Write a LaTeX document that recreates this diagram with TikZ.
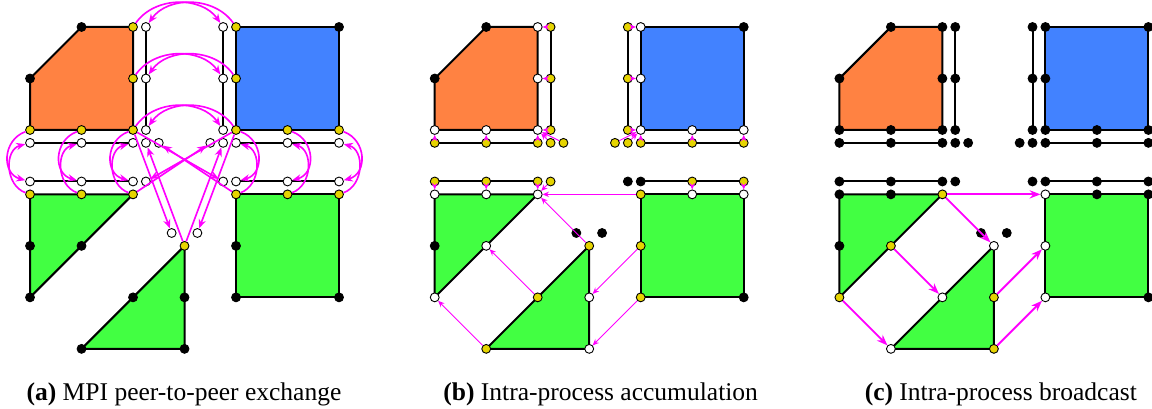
\documentclass[tikz,border=0pt]{standalone}
\usepackage{fontspec}
\setmainfont{Liberation Serif}
\usetikzlibrary{arrows.meta}
\usetikzlibrary{backgrounds}
\usepackage{xcolor}
\definecolor{cellorange}{RGB}{255,130,66}
\definecolor{cellblue}{RGB}{66,130,255}
\definecolor{cellgreen}{RGB}{66,255,66}
\definecolor{haloyellow}{RGB}{230,212,0}
\definecolor{msgmagenta}{RGB}{255,0,255}

\begin{document}
\begin{tikzpicture}[
  blk/.style = {draw,circle,fill=black,inner sep=0pt,minimum size=4.9pt,line width=0.5pt},
  ylw/.style = {draw,circle,fill=haloyellow,inner sep=0pt,minimum size=4.9pt,line width=0.5pt},
  wht/.style = {draw,circle,fill=white,inner sep=0pt,minimum size=4.9pt,line width=0.5pt},
  cell/.style = {draw,line width=1.1pt,line join=round},
  strip/.style = {draw,line width=1.1pt},
  xfer/.style = {msgmagenta,line width=0.9pt,-{Stealth[length=5pt,width=4pt]}},
  acc/.style = {msgmagenta,line width=0.5pt,-{Stealth[length=3.5pt,width=3pt]}},
  bcast/.style = {msgmagenta,line width=1pt,-{Stealth[length=6pt,width=4.5pt]}},
  caption/.style = {anchor=base,font=\fontsize{14.1}{16}\selectfont}]
\useasboundingbox (-0.583,0.524) rectangle (21.786,-7.417);

% (a) peer-to-peer exchange
\begin{scope}
  \node[blk] (a-o10) at (1,0) {};
  \node[ylw] (a-o20) at (2,0) {};
  \node[ylw] (a-o21) at (2,-1) {};
  \node[blk] (a-o01) at (0,-1) {};
  \node[ylw] (a-o02) at (0,-2) {};
  \node[ylw] (a-o12) at (1,-2) {};
  \node[ylw] (a-o22) at (2,-2) {};
  \node[wht] (a-s0) at (2.25,0) {};
  \node[wht] (a-s1) at (2.25,-1) {};
  \node[wht] (a-s2) at (2.25,-2) {};
  \node[wht] (a-u0) at (0,-2.25) {};
  \node[wht] (a-u1) at (1,-2.25) {};
  \node[wht] (a-u2) at (2,-2.25) {};
  \node[wht] (a-u3) at (2.25,-2.25) {};
  \node[wht] (a-u4) at (2.5,-2.25) {};
  \node[wht] (a-t0) at (3.75,0) {};
  \node[wht] (a-t1) at (3.75,-1) {};
  \node[wht] (a-t2) at (3.75,-2) {};
  \node[wht] (a-v0) at (3.5,-2.25) {};
  \node[wht] (a-v1) at (3.75,-2.25) {};
  \node[wht] (a-v2) at (4,-2.25) {};
  \node[wht] (a-v3) at (5,-2.25) {};
  \node[wht] (a-v4) at (6,-2.25) {};
  \node[ylw] (a-b40) at (4,0) {};
  \node[blk] (a-b60) at (6,0) {};
  \node[ylw] (a-b41) at (4,-1) {};
  \node[ylw] (a-b42) at (4,-2) {};
  \node[ylw] (a-b52) at (5,-2) {};
  \node[ylw] (a-b62) at (6,-2) {};
  \node[wht] (a-l0) at (0,-3) {};
  \node[wht] (a-l1) at (1,-3) {};
  \node[wht] (a-l2) at (2,-3) {};
  \node[wht] (a-l3) at (2.25,-3) {};
  \node[wht] (a-r0) at (3.75,-3) {};
  \node[wht] (a-r1) at (4,-3) {};
  \node[wht] (a-r2) at (5,-3) {};
  \node[wht] (a-r3) at (6,-3) {};
  \node[ylw] (a-g0) at (0,-3.25) {};
  \node[ylw] (a-g1) at (1,-3.25) {};
  \node[ylw] (a-g2) at (2,-3.25) {};
  \node[blk] (a-g3) at (0,-4.25) {};
  \node[blk] (a-g4) at (1,-4.25) {};
  \node[blk] (a-g5) at (0,-5.25) {};
  \node[wht] (a-e0) at (2.75,-4) {};
  \node[wht] (a-e1) at (3.25,-4) {};
  \node[ylw] (a-h0) at (3,-4.25) {};
  \node[blk] (a-h1) at (3,-5.25) {};
  \node[blk] (a-h2) at (2,-5.25) {};
  \node[blk] (a-h3) at (3,-6.25) {};
  \node[blk] (a-h4) at (1,-6.25) {};
  \node[ylw] (a-q0) at (4,-3.25) {};
  \node[ylw] (a-q1) at (5,-3.25) {};
  \node[ylw] (a-q2) at (6,-3.25) {};
  \node[blk] (a-q3) at (4,-4.25) {};
  \node[blk] (a-q4) at (4,-5.25) {};
  \node[blk] (a-q5) at (6,-5.25) {};
  \begin{scope}[on background layer]
    \path[cell,fill=cellorange] (a-o10.center) -- (a-o20.center) -- (a-o22.center) -- (a-o02.center) -- (a-o01.center) -- cycle;
    \path[cell,fill=cellblue] (a-b40.center) -- (a-b60.center) -- (a-b62.center) -- (a-b42.center) -- cycle;
    \path[cell,fill=cellgreen] (a-g0.center) -- (a-g2.center) -- (a-g5.center) -- cycle;
    \path[cell,fill=cellgreen] (a-h0.center) -- (a-h3.center) -- (a-h4.center) -- cycle;
    \path[cell,fill=cellgreen] (a-q0.center) -- (a-q2.center) -- (a-q5.center) -- (a-q4.center) -- cycle;
    \path[strip] (a-s0.center) -- (a-s2.center);
    \path[strip] (a-t0.center) -- (a-t2.center);
    \path[strip] (a-u0.center) -- (a-u2.center);
    \path[strip] (a-v2.center) -- (a-v4.center);
    \path[strip] (a-l0.center) -- (a-l2.center);
    \path[strip] (a-r1.center) -- (a-r3.center);
  \end{scope}
  % across the gap
  \draw[xfer] (a-o20) to [bend left=55] (a-t0);
  \draw[xfer] (a-b40) to [bend right=55] (a-s0);
  \draw[xfer] (a-o21) to [bend left=55] (a-t1);
  \draw[xfer] (a-b41) to [bend right=55] (a-s1);
  \draw[xfer] (a-o22) to [bend left=55] (a-t2);
  \draw[xfer] (a-b42) to [bend right=55] (a-s2);
  % up and down
  \draw[xfer] (a-o02) to [out=200,in=165,looseness=1.3] (a-l0);
  \draw[xfer] (a-g0) to [out=160,in=195,looseness=1.15] (a-u0);
  \draw[xfer] (a-o12) to [out=200,in=165,looseness=1.3] (a-l1);
  \draw[xfer] (a-g1) to [out=160,in=195,looseness=1.15] (a-u1);
  \draw[xfer] (a-o22) to [out=200,in=165,looseness=1.3] (a-l2);
  \draw[xfer] (a-g2) to [out=160,in=195,looseness=1.15] (a-u2);
  \draw[xfer] (a-b42) to [out=-20,in=15,looseness=1.3] (a-r1);
  \draw[xfer] (a-q0) to [out=20,in=-15,looseness=1.15] (a-v2);
  \draw[xfer] (a-b52) to [out=-20,in=15,looseness=1.3] (a-r2);
  \draw[xfer] (a-q1) to [out=20,in=-15,looseness=1.15] (a-v3);
  \draw[xfer] (a-b62) to [out=-20,in=15,looseness=1.3] (a-r3);
  \draw[xfer] (a-q2) to [out=20,in=-15,looseness=1.15] (a-v4);
  % corners
  \draw[xfer] (a-o22) -- (a-e0);
  \draw[xfer] (a-h0) -- (a-u3);
  \draw[xfer] (a-b42) -- (a-e1);
  \draw[xfer] (a-h0) -- (a-v1);
  \draw[xfer] (a-g2) -- (a-v0);
  \draw[xfer] (a-b42) -- (a-l3);
  \draw[xfer] (a-q0) -- (a-u4);
  \draw[xfer] (a-o22) -- (a-r0);
\end{scope}

% (b) accumulation
\begin{scope}[xshift=7.858cm]
  \node[blk] (b-o10) at (1,0) {};
  \node[wht] (b-o20) at (2,0) {};
  \node[wht] (b-o21) at (2,-1) {};
  \node[blk] (b-o01) at (0,-1) {};
  \node[wht] (b-o02) at (0,-2) {};
  \node[wht] (b-o12) at (1,-2) {};
  \node[wht] (b-o22) at (2,-2) {};
  \node[ylw] (b-s0) at (2.25,0) {};
  \node[ylw] (b-s1) at (2.25,-1) {};
  \node[ylw] (b-s2) at (2.25,-2) {};
  \node[ylw] (b-u0) at (0,-2.25) {};
  \node[ylw] (b-u1) at (1,-2.25) {};
  \node[ylw] (b-u2) at (2,-2.25) {};
  \node[ylw] (b-u3) at (2.25,-2.25) {};
  \node[ylw] (b-u4) at (2.5,-2.25) {};
  \node[ylw] (b-t0) at (3.75,0) {};
  \node[ylw] (b-t1) at (3.75,-1) {};
  \node[ylw] (b-t2) at (3.75,-2) {};
  \node[ylw] (b-v0) at (3.5,-2.25) {};
  \node[ylw] (b-v1) at (3.75,-2.25) {};
  \node[ylw] (b-v2) at (4,-2.25) {};
  \node[ylw] (b-v3) at (5,-2.25) {};
  \node[ylw] (b-v4) at (6,-2.25) {};
  \node[wht] (b-b40) at (4,0) {};
  \node[blk] (b-b60) at (6,0) {};
  \node[wht] (b-b41) at (4,-1) {};
  \node[wht] (b-b42) at (4,-2) {};
  \node[wht] (b-b52) at (5,-2) {};
  \node[wht] (b-b62) at (6,-2) {};
  \node[ylw] (b-l0) at (0,-3) {};
  \node[ylw] (b-l1) at (1,-3) {};
  \node[ylw] (b-l2) at (2,-3) {};
  \node[ylw] (b-l3) at (2.25,-3) {};
  \node[blk] (b-r0) at (3.75,-3) {};
  \node[blk] (b-r1) at (4,-3) {};
  \node[ylw] (b-r2) at (5,-3) {};
  \node[ylw] (b-r3) at (6,-3) {};
  \node[wht] (b-g0) at (0,-3.25) {};
  \node[wht] (b-g1) at (1,-3.25) {};
  \node[wht] (b-g2) at (2,-3.25) {};
  \node[blk] (b-g3) at (0,-4.25) {};
  \node[wht] (b-g4) at (1,-4.25) {};
  \node[wht] (b-g5) at (0,-5.25) {};
  \node[blk] (b-e0) at (2.75,-4) {};
  \node[blk] (b-e1) at (3.25,-4) {};
  \node[ylw] (b-h0) at (3,-4.25) {};
  \node[wht] (b-h1) at (3,-5.25) {};
  \node[ylw] (b-h2) at (2,-5.25) {};
  \node[wht] (b-h3) at (3,-6.25) {};
  \node[ylw] (b-h4) at (1,-6.25) {};
  \node[ylw] (b-q0) at (4,-3.25) {};
  \node[wht] (b-q1) at (5,-3.25) {};
  \node[wht] (b-q2) at (6,-3.25) {};
  \node[ylw] (b-q3) at (4,-4.25) {};
  \node[ylw] (b-q4) at (4,-5.25) {};
  \node[blk] (b-q5) at (6,-5.25) {};
  \begin{scope}[on background layer]
    \path[cell,fill=cellorange] (b-o10.center) -- (b-o20.center) -- (b-o22.center) -- (b-o02.center) -- (b-o01.center) -- cycle;
    \path[cell,fill=cellblue] (b-b40.center) -- (b-b60.center) -- (b-b62.center) -- (b-b42.center) -- cycle;
    \path[cell,fill=cellgreen] (b-g0.center) -- (b-g2.center) -- (b-g5.center) -- cycle;
    \path[cell,fill=cellgreen] (b-h0.center) -- (b-h3.center) -- (b-h4.center) -- cycle;
    \path[cell,fill=cellgreen] (b-q0.center) -- (b-q2.center) -- (b-q5.center) -- (b-q4.center) -- cycle;
    \path[strip] (b-s0.center) -- (b-s2.center);
    \path[strip] (b-t0.center) -- (b-t2.center);
    \path[strip] (b-u0.center) -- (b-u2.center);
    \path[strip] (b-v2.center) -- (b-v4.center);
    \path[strip] (b-l0.center) -- (b-l2.center);
    \path[strip] (b-r1.center) -- (b-r3.center);
  \end{scope}
  % halo into owner
  \draw[acc] (b-s0) -- (b-o20);
  \draw[acc] (b-s1) -- (b-o21);
  \draw[acc] (b-s2) -- (b-o22);
  \draw[acc] (b-u0) -- (b-o02);
  \draw[acc] (b-u1) -- (b-o12);
  \draw[acc] (b-u2) -- (b-o22);
  \draw[acc] (b-u3) -- (b-o22);
  \draw[acc] (b-u4) -- (b-o22);
  \draw[acc] (b-t0) -- (b-b40);
  \draw[acc] (b-t1) -- (b-b41);
  \draw[acc] (b-t2) -- (b-b42);
  \draw[acc] (b-v0) -- (b-b42);
  \draw[acc] (b-v1) -- (b-b42);
  \draw[acc] (b-v2) -- (b-b42);
  \draw[acc] (b-v3) -- (b-b52);
  \draw[acc] (b-v4) -- (b-b62);
  \draw[acc] (b-l0) -- (b-g0);
  \draw[acc] (b-l1) -- (b-g1);
  \draw[acc] (b-l2) -- (b-g2);
  \draw[acc] (b-l3) -- (b-g2);
  \draw[acc] (b-r2) -- (b-q1);
  \draw[acc] (b-r3) -- (b-q2);
  % shared points
  \draw[acc] (b-q0) -- (b-g2);
  \draw[acc] (b-h0) -- (b-g2);
  \draw[acc] (b-h2) -- (b-g4);
  \draw[acc] (b-h4) -- (b-g5);
  \draw[acc] (b-q3) -- (b-h1);
  \draw[acc] (b-q4) -- (b-h3);
\end{scope}

% (c) broadcast
\begin{scope}[xshift=15.716cm]
  \node[blk] (c-o10) at (1,0) {};
  \node[blk] (c-o20) at (2,0) {};
  \node[blk] (c-o21) at (2,-1) {};
  \node[blk] (c-o01) at (0,-1) {};
  \node[blk] (c-o02) at (0,-2) {};
  \node[blk] (c-o12) at (1,-2) {};
  \node[blk] (c-o22) at (2,-2) {};
  \node[blk] (c-s0) at (2.25,0) {};
  \node[blk] (c-s1) at (2.25,-1) {};
  \node[blk] (c-s2) at (2.25,-2) {};
  \node[blk] (c-u0) at (0,-2.25) {};
  \node[blk] (c-u1) at (1,-2.25) {};
  \node[blk] (c-u2) at (2,-2.25) {};
  \node[blk] (c-u3) at (2.25,-2.25) {};
  \node[blk] (c-u4) at (2.5,-2.25) {};
  \node[blk] (c-t0) at (3.75,0) {};
  \node[blk] (c-t1) at (3.75,-1) {};
  \node[blk] (c-t2) at (3.75,-2) {};
  \node[blk] (c-v0) at (3.5,-2.25) {};
  \node[blk] (c-v1) at (3.75,-2.25) {};
  \node[blk] (c-v2) at (4,-2.25) {};
  \node[blk] (c-v3) at (5,-2.25) {};
  \node[blk] (c-v4) at (6,-2.25) {};
  \node[blk] (c-b40) at (4,0) {};
  \node[blk] (c-b60) at (6,0) {};
  \node[blk] (c-b41) at (4,-1) {};
  \node[blk] (c-b42) at (4,-2) {};
  \node[blk] (c-b52) at (5,-2) {};
  \node[blk] (c-b62) at (6,-2) {};
  \node[blk] (c-l0) at (0,-3) {};
  \node[blk] (c-l1) at (1,-3) {};
  \node[blk] (c-l2) at (2,-3) {};
  \node[blk] (c-l3) at (2.25,-3) {};
  \node[blk] (c-r0) at (3.75,-3) {};
  \node[blk] (c-r1) at (4,-3) {};
  \node[blk] (c-r2) at (5,-3) {};
  \node[blk] (c-r3) at (6,-3) {};
  \node[blk] (c-g0) at (0,-3.25) {};
  \node[blk] (c-g1) at (1,-3.25) {};
  \node[ylw] (c-g2) at (2,-3.25) {};
  \node[blk] (c-g3) at (0,-4.25) {};
  \node[ylw] (c-g4) at (1,-4.25) {};
  \node[ylw] (c-g5) at (0,-5.25) {};
  \node[blk] (c-e0) at (2.75,-4) {};
  \node[blk] (c-e1) at (3.25,-4) {};
  \node[wht] (c-h0) at (3,-4.25) {};
  \node[ylw] (c-h1) at (3,-5.25) {};
  \node[wht] (c-h2) at (2,-5.25) {};
  \node[ylw] (c-h3) at (3,-6.25) {};
  \node[wht] (c-h4) at (1,-6.25) {};
  \node[wht] (c-q0) at (4,-3.25) {};
  \node[blk] (c-q1) at (5,-3.25) {};
  \node[blk] (c-q2) at (6,-3.25) {};
  \node[wht] (c-q3) at (4,-4.25) {};
  \node[wht] (c-q4) at (4,-5.25) {};
  \node[blk] (c-q5) at (6,-5.25) {};
  \begin{scope}[on background layer]
    \path[cell,fill=cellorange] (c-o10.center) -- (c-o20.center) -- (c-o22.center) -- (c-o02.center) -- (c-o01.center) -- cycle;
    \path[cell,fill=cellblue] (c-b40.center) -- (c-b60.center) -- (c-b62.center) -- (c-b42.center) -- cycle;
    \path[cell,fill=cellgreen] (c-g0.center) -- (c-g2.center) -- (c-g5.center) -- cycle;
    \path[cell,fill=cellgreen] (c-h0.center) -- (c-h3.center) -- (c-h4.center) -- cycle;
    \path[cell,fill=cellgreen] (c-q0.center) -- (c-q2.center) -- (c-q5.center) -- (c-q4.center) -- cycle;
    \path[strip] (c-s0.center) -- (c-s2.center);
    \path[strip] (c-t0.center) -- (c-t2.center);
    \path[strip] (c-u0.center) -- (c-u2.center);
    \path[strip] (c-v2.center) -- (c-v4.center);
    \path[strip] (c-l0.center) -- (c-l2.center);
    \path[strip] (c-r1.center) -- (c-r3.center);
  \end{scope}
  \draw[bcast] (c-g2) -- (c-q0);
  \draw[bcast] (c-g2) -- (c-h0);
  \draw[bcast] (c-g4) -- (c-h2);
  \draw[bcast] (c-g5) -- (c-h4);
  \draw[bcast] (c-h1) -- (c-q3);
  \draw[bcast] (c-h3) -- (c-q4);
\end{scope}

\node[caption] (cap-a) at (2.99,-7.243) {\textbf{(a)} MPI peer-to-peer exchange};
\node[caption] (cap-b) at (11.08,-7.243) {\textbf{(b)} Intra-process accumulation};
\node[caption] (cap-c) at (18.85,-7.243) {\textbf{(c)} Intra-process broadcast};
\end{tikzpicture}
\end{document}
